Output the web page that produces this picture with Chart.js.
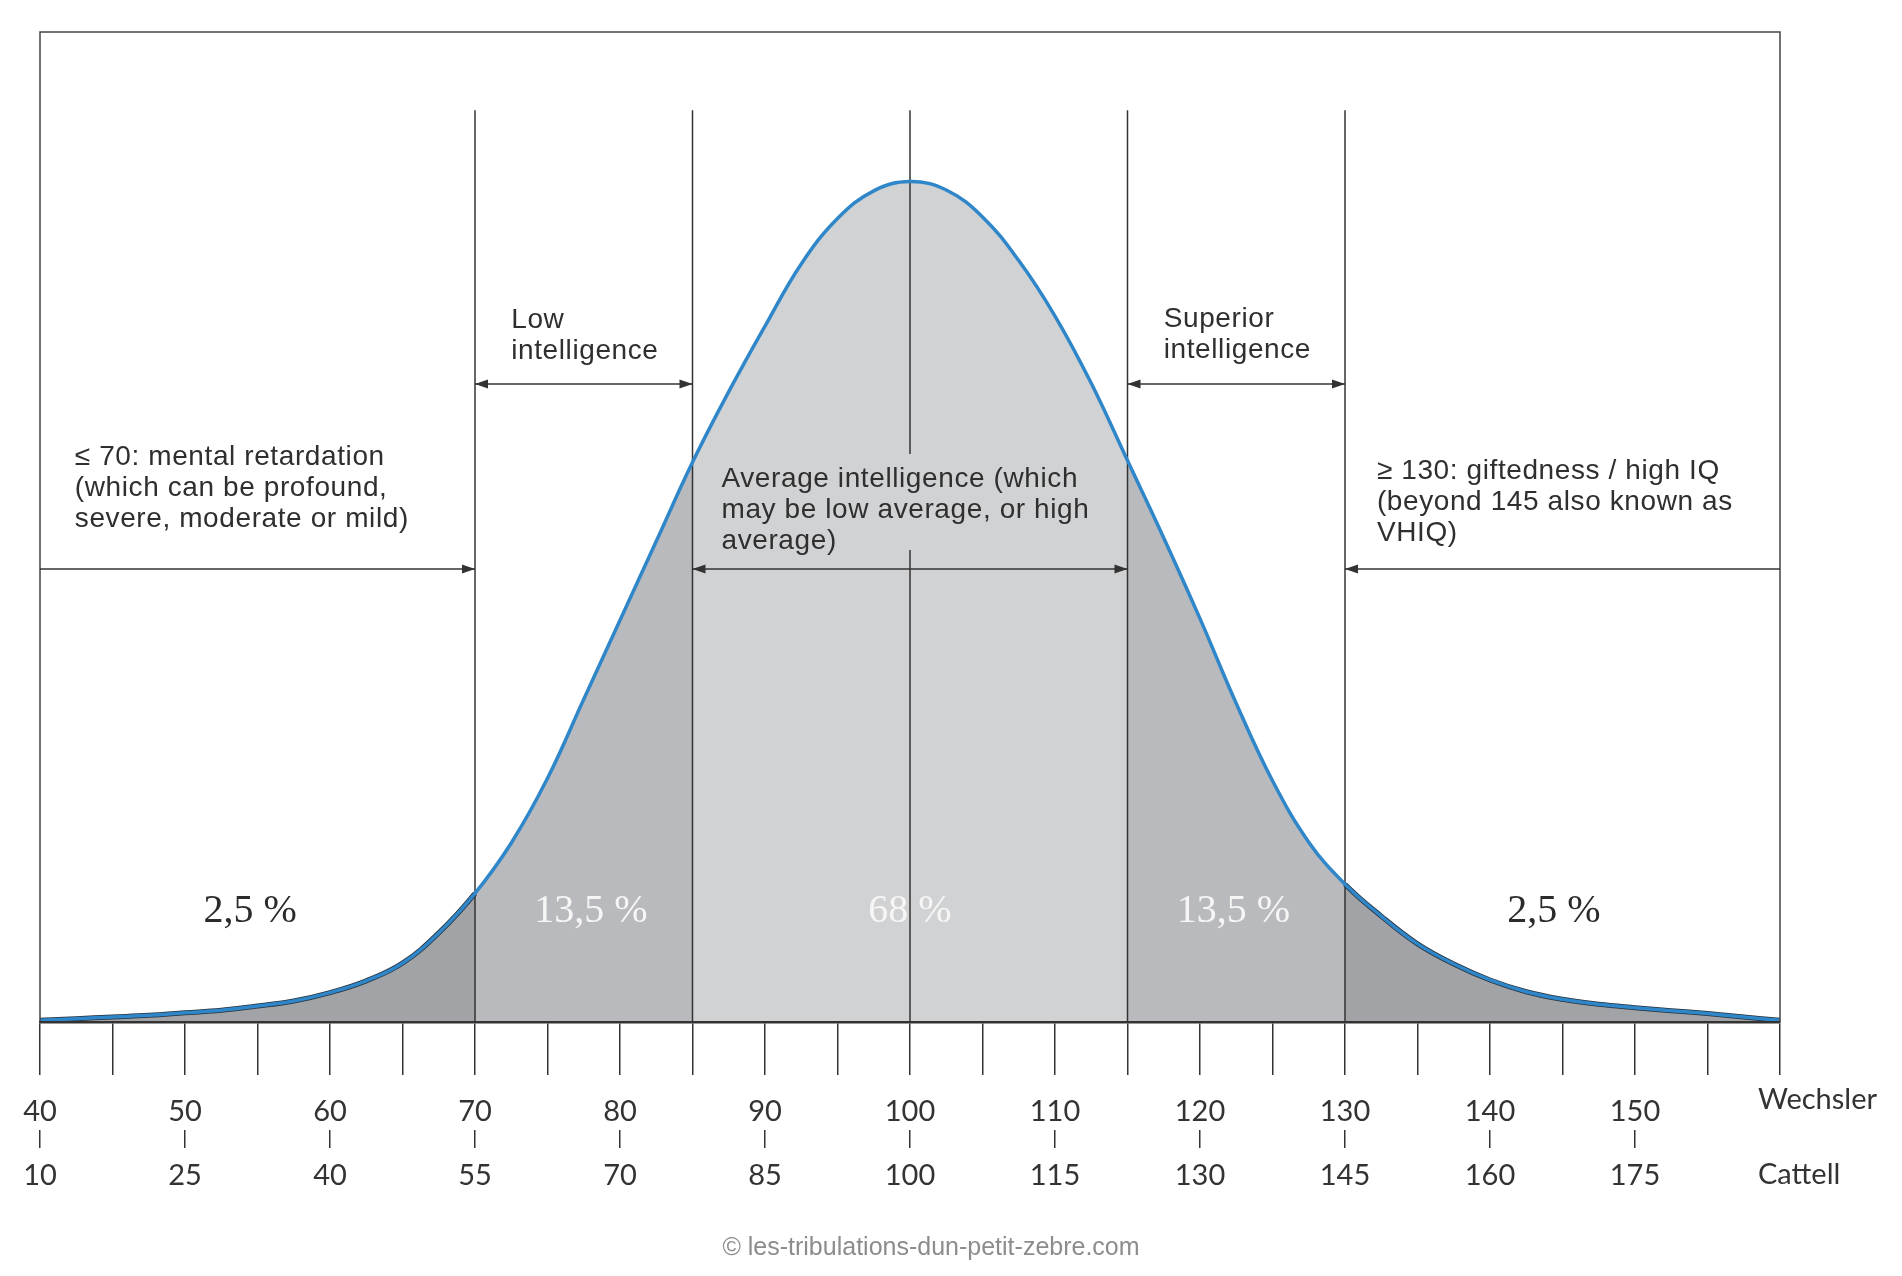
<!DOCTYPE html>
<html>
<head>
<meta charset="utf-8">
<title>IQ distribution – Wechsler / Cattell</title>
<script src="https://cdn.jsdelivr.net/npm/chart.js@4.4.1/dist/chart.umd.min.js"></script>
<style>
  html, body { margin: 0; padding: 0; background: #fff; }
  #wrap { width: 1902px; height: 1276px; }
</style>
</head>
<body>
<div id="wrap"><canvas id="iqChart" width="1902" height="1276"></canvas></div>
<script>
'use strict';

// ─── Data ─────────────────────────────────────────────────────────────────────
// Curve height, in % of the peak, every 2.5 IQ points
const iqScores = [
  40, 42.5, 45, 47.5, 50, 52.5, 55, 57.5, 60, 62.5, 65, 67.5,
  70, 72.5, 75, 77.5, 80, 82.5, 85, 87.5, 90, 92.5, 95, 97.5,
  100, 102.5, 105, 107.5, 110, 112.5, 115, 117.5, 120, 122.5, 125, 127.5,
  130, 132.5, 135, 137.5, 140, 142.5, 145, 147.5, 150, 152.5, 155, 157.5, 160,
];
const curveHeight = [
  0.2, 0.4, 0.6, 0.8, 1.1, 1.4, 1.9, 2.5, 3.5, 4.9, 7.0, 10.6,
  15.3, 21.3, 29.0, 38.4, 47.8, 57.2, 66.6, 75.0, 82.8, 90.2, 95.6, 98.9,
  100, 99.0, 95.8, 90.6, 84.0, 76.0, 66.8, 57.6, 48.0, 37.9, 28.7, 21.4,
  16.4, 12.6, 9.3, 6.9, 5.0, 3.6, 2.7, 2.1, 1.7, 1.35, 1.0, 0.6, 0.2,
];

const minorTicks     = [40, 45, 50, 55, 60, 65, 70, 75, 80, 85, 90, 95, 100,
                        105, 110, 115, 120, 125, 130, 135, 140, 145, 150, 155, 160];
const wechslerLabels = [40, 50, 60, 70, 80, 90, 100, 110, 120, 130, 140, 150];
const cattellLabels  = [10, 25, 40, 55, 70, 85, 100, 115, 130, 145, 160, 175];

const bandEdges    = [70, 85, 100, 115, 130];
const bandPercents = ['2,5 %', '13,5 %', '68 %', '13,5 %', '2,5 %'];
const percentAt    = [54.5, 78, 100, 122.3, 144.4];

// ─── Styles ───────────────────────────────────────────────────────────────────
const INK        = '#333333';
const BLUE       = '#2f87c9';
const FILL_TAIL  = '#a2a3a7';
const FILL_MID   = '#b9babd';
const FILL_CORE  = '#d1d2d4';
const EDGE_TOP   = 108.5;   // top of the band lines, in curve units
const PCT_LEVEL  = 13.1;    // height of the % labels, in curve units
const NOTE_FONT  = '28px "Liberation Sans", Arial, sans-serif';
const NOTE_LEAD  = 31;
const TENSION    = 0.4;

function bandColor(x) {
  if (x < 70 || x >= 130) return FILL_TAIL;
  if (x < 85 || x >= 115) return FILL_MID;
  return FILL_CORE;
}

const curvePoints = iqScores.map((x, i) => ({ x, y: curveHeight[i] }));

// ─── Annotations (text + arrows) ──────────────────────────────────────────────
const notes = [
  { at: 72.5,  y: 328, lines: ['Low', 'intelligence'] },
  { at: 117.5, y: 327, lines: ['Superior', 'intelligence'] },
  { at: 42.4,  y: 465, lines: ['≤ 70: mental retardation', '(which can be profound,', 'severe, moderate or mild)'] },
  { at: 87,    y: 487, lines: ['Average intelligence (which', 'may be low average, or high', 'average)'], boxed: true },
  { at: 132.2, y: 479, lines: ['≥ 130: giftedness / high IQ', '(beyond 145 also known as', 'VHIQ)'] },
];

const spans = [
  { from: 70,  to: 85,  y: 384, both: true },
  { from: 115, to: 130, y: 384, both: true },
  { from: 40,  to: 70,  y: 569, both: false },
  { from: 85,  to: 115, y: 569, both: true },
  { from: 160, to: 130, y: 569, both: false },
];

function arrowHead(ctx, x, y, dir) {
  ctx.beginPath();
  ctx.moveTo(x, y);
  ctx.lineTo(x - dir * 13, y - 4.5);
  ctx.lineTo(x - dir * 13, y + 4.5);
  ctx.closePath();
  ctx.fill();
}

const annotationPlugin = {
  id: 'iqAnnotations',
  afterDatasetsDraw(chart) {
    const { ctx, chartArea: a } = chart;
    const xs = chart.scales.x;
    const ys = chart.scales.y;

    ctx.save();

    // frame
    ctx.strokeStyle = '#444';
    ctx.lineWidth = 1.5;
    ctx.beginPath();
    ctx.moveTo(a.left, a.bottom);
    ctx.lineTo(a.left, a.top);
    ctx.lineTo(a.right, a.top);
    ctx.lineTo(a.right, a.bottom);
    ctx.stroke();

    // arrows
    ctx.strokeStyle = INK;
    ctx.fillStyle = INK;
    ctx.lineWidth = 1.5;
    spans.forEach((s) => {
      const x1 = xs.getPixelForValue(s.from);
      const x2 = xs.getPixelForValue(s.to);
      const dir = Math.sign(x2 - x1);
      ctx.beginPath();
      ctx.moveTo(x1, s.y);
      ctx.lineTo(x2, s.y);
      ctx.stroke();
      arrowHead(ctx, x2, s.y, dir);
      if (s.both) arrowHead(ctx, x1, s.y, -dir);
    });

    // notes
    ctx.font = NOTE_FONT;
    if ('letterSpacing' in ctx) ctx.letterSpacing = '0.6px';
    ctx.textAlign = 'left';
    ctx.textBaseline = 'alphabetic';
    notes.forEach((n) => {
      const x = xs.getPixelForValue(n.at);
      if (n.boxed) {
        const w = Math.max(...n.lines.map((l) => ctx.measureText(l).width));
        ctx.fillStyle = FILL_CORE;
        ctx.fillRect(x - 10, n.y - 33, w + 20, NOTE_LEAD * n.lines.length + 3);
      }
      ctx.fillStyle = '#2f2f2f';
      n.lines.forEach((line, i) => ctx.fillText(line, x, n.y + i * NOTE_LEAD));
    });
    if ('letterSpacing' in ctx) ctx.letterSpacing = '0px';

    // band percentages
    ctx.font = '40px "Liberation Serif", "Times New Roman", serif';
    ctx.textAlign = 'center';
    ctx.textBaseline = 'middle';
    bandPercents.forEach((txt, i) => {
      const tail = i === 0 || i === bandPercents.length - 1;
      ctx.fillStyle = tail ? '#2b2b2b' : '#f6f6f6';
      ctx.fillText(txt, xs.getPixelForValue(percentAt[i]), ys.getPixelForValue(PCT_LEVEL));
    });

    ctx.restore();
  },
  afterDraw(chart) {
    const { ctx } = chart;
    const x1 = chart.scales.x;
    const x2 = chart.scales.x2;
    ctx.save();
    ctx.fillStyle = INK;
    ctx.font = '29px Lato, "Open Sans", sans-serif';
    ctx.textAlign = 'left';
    ctx.textBaseline = 'middle';
    ctx.fillText('Wechsler', 1758, x1.top + 53 + 19 + 17.4 - 12);
    ctx.fillText('Cattell',  1758, x2.top + 18 + 10 + 17.4 - 1);

    ctx.fillStyle = '#8c8c8c';
    ctx.font = '25px "Liberation Sans", Arial, sans-serif';
    ctx.textAlign = 'center';
    ctx.fillText('© les-tribulations-dun-petit-zebre.com', 931, 1248);
    ctx.restore();
  },
};

// ─── Datasets ─────────────────────────────────────────────────────────────────
const edgeSets = bandEdges.map((e) => ({
  label: 'edge ' + e,
  data: [{ x: e, y: 0 }, { x: e, y: EDGE_TOP }],
  borderColor: INK,
  borderWidth: 1.5,
  pointRadius: 0,
  fill: false,
  order: 3,
}));

const datasets = [
  {
    label: 'bands',
    data: curvePoints,
    borderWidth: 0,
    borderColor: 'rgba(0,0,0,0)',
    backgroundColor: FILL_CORE,
    fill: 'origin',
    pointRadius: 0,
    tension: TENSION,
    segment: { backgroundColor: (c) => bandColor(c.p0.parsed.x) },
    order: 4,
  },
  ...edgeSets,
  {
    label: 'tail edge',
    data: curvePoints,
    borderWidth: 5,
    borderColor: '#27313a',
    fill: false,
    pointRadius: 0,
    tension: TENSION,
    segment: {
      borderColor: (c) => (c.p0.parsed.x < 70 || c.p0.parsed.x >= 130 ? '#27313a' : 'rgba(0,0,0,0)'),
    },
    order: 2,
  },
  {
    label: 'IQ',
    data: curvePoints,
    borderWidth: 3.5,
    borderColor: BLUE,
    fill: false,
    pointRadius: 0,
    tension: TENSION,
    order: 1,
  },
];

// ─── Chart ────────────────────────────────────────────────────────────────────
new Chart(document.getElementById('iqChart').getContext('2d'), {
  type: 'line',
  data: { datasets },
  plugins: [annotationPlugin],
  options: {
    responsive: false,
    devicePixelRatio: 1,
    animation: false,
    layout: { padding: { left: 40, right: 122, top: 32, bottom: 56 } },
    plugins: {
      legend:  { display: false },
      tooltip: { enabled: false },
    },
    scales: {
      y: { display: false, min: 0, max: 117.8 },
      x: {
        type: 'linear',
        position: 'bottom',
        min: 40,
        max: 160,
        weight: 0,
        afterBuildTicks: (s) => { s.ticks = minorTicks.map((v) => ({ value: v })); },
        afterFit: (s) => { s.height = 108; },
        grid:   { drawOnChartArea: false, drawTicks: true, tickLength: 53, color: INK, lineWidth: 1.5 },
        border: { display: true, color: INK, width: 2.5, z: 1 },
        ticks: {
          autoSkip: false,
          maxRotation: 0,
          padding: 19,
          color: INK,
          font: { family: 'Lato, "Open Sans", sans-serif', size: 29 },
          callback: (v) => (wechslerLabels.includes(v) ? String(v) : ''),
        },
      },
      x2: {
        type: 'linear',
        position: 'bottom',
        min: 40,
        max: 160,
        weight: 1,
        afterBuildTicks: (s) => { s.ticks = wechslerLabels.map((v) => ({ value: v })); },
        afterFit: (s) => { s.height = 90; },
        grid:   { drawOnChartArea: false, drawTicks: true, tickLength: 18, color: INK, lineWidth: 1.5 },
        border: { display: false },
        ticks: {
          autoSkip: false,
          maxRotation: 0,
          padding: 10,
          color: INK,
          font: { family: 'Lato, "Open Sans", sans-serif', size: 29 },
          callback: (v, i) => String(cattellLabels[i]),
        },
      },
    },
  },
});
</script>
</body>
</html>
